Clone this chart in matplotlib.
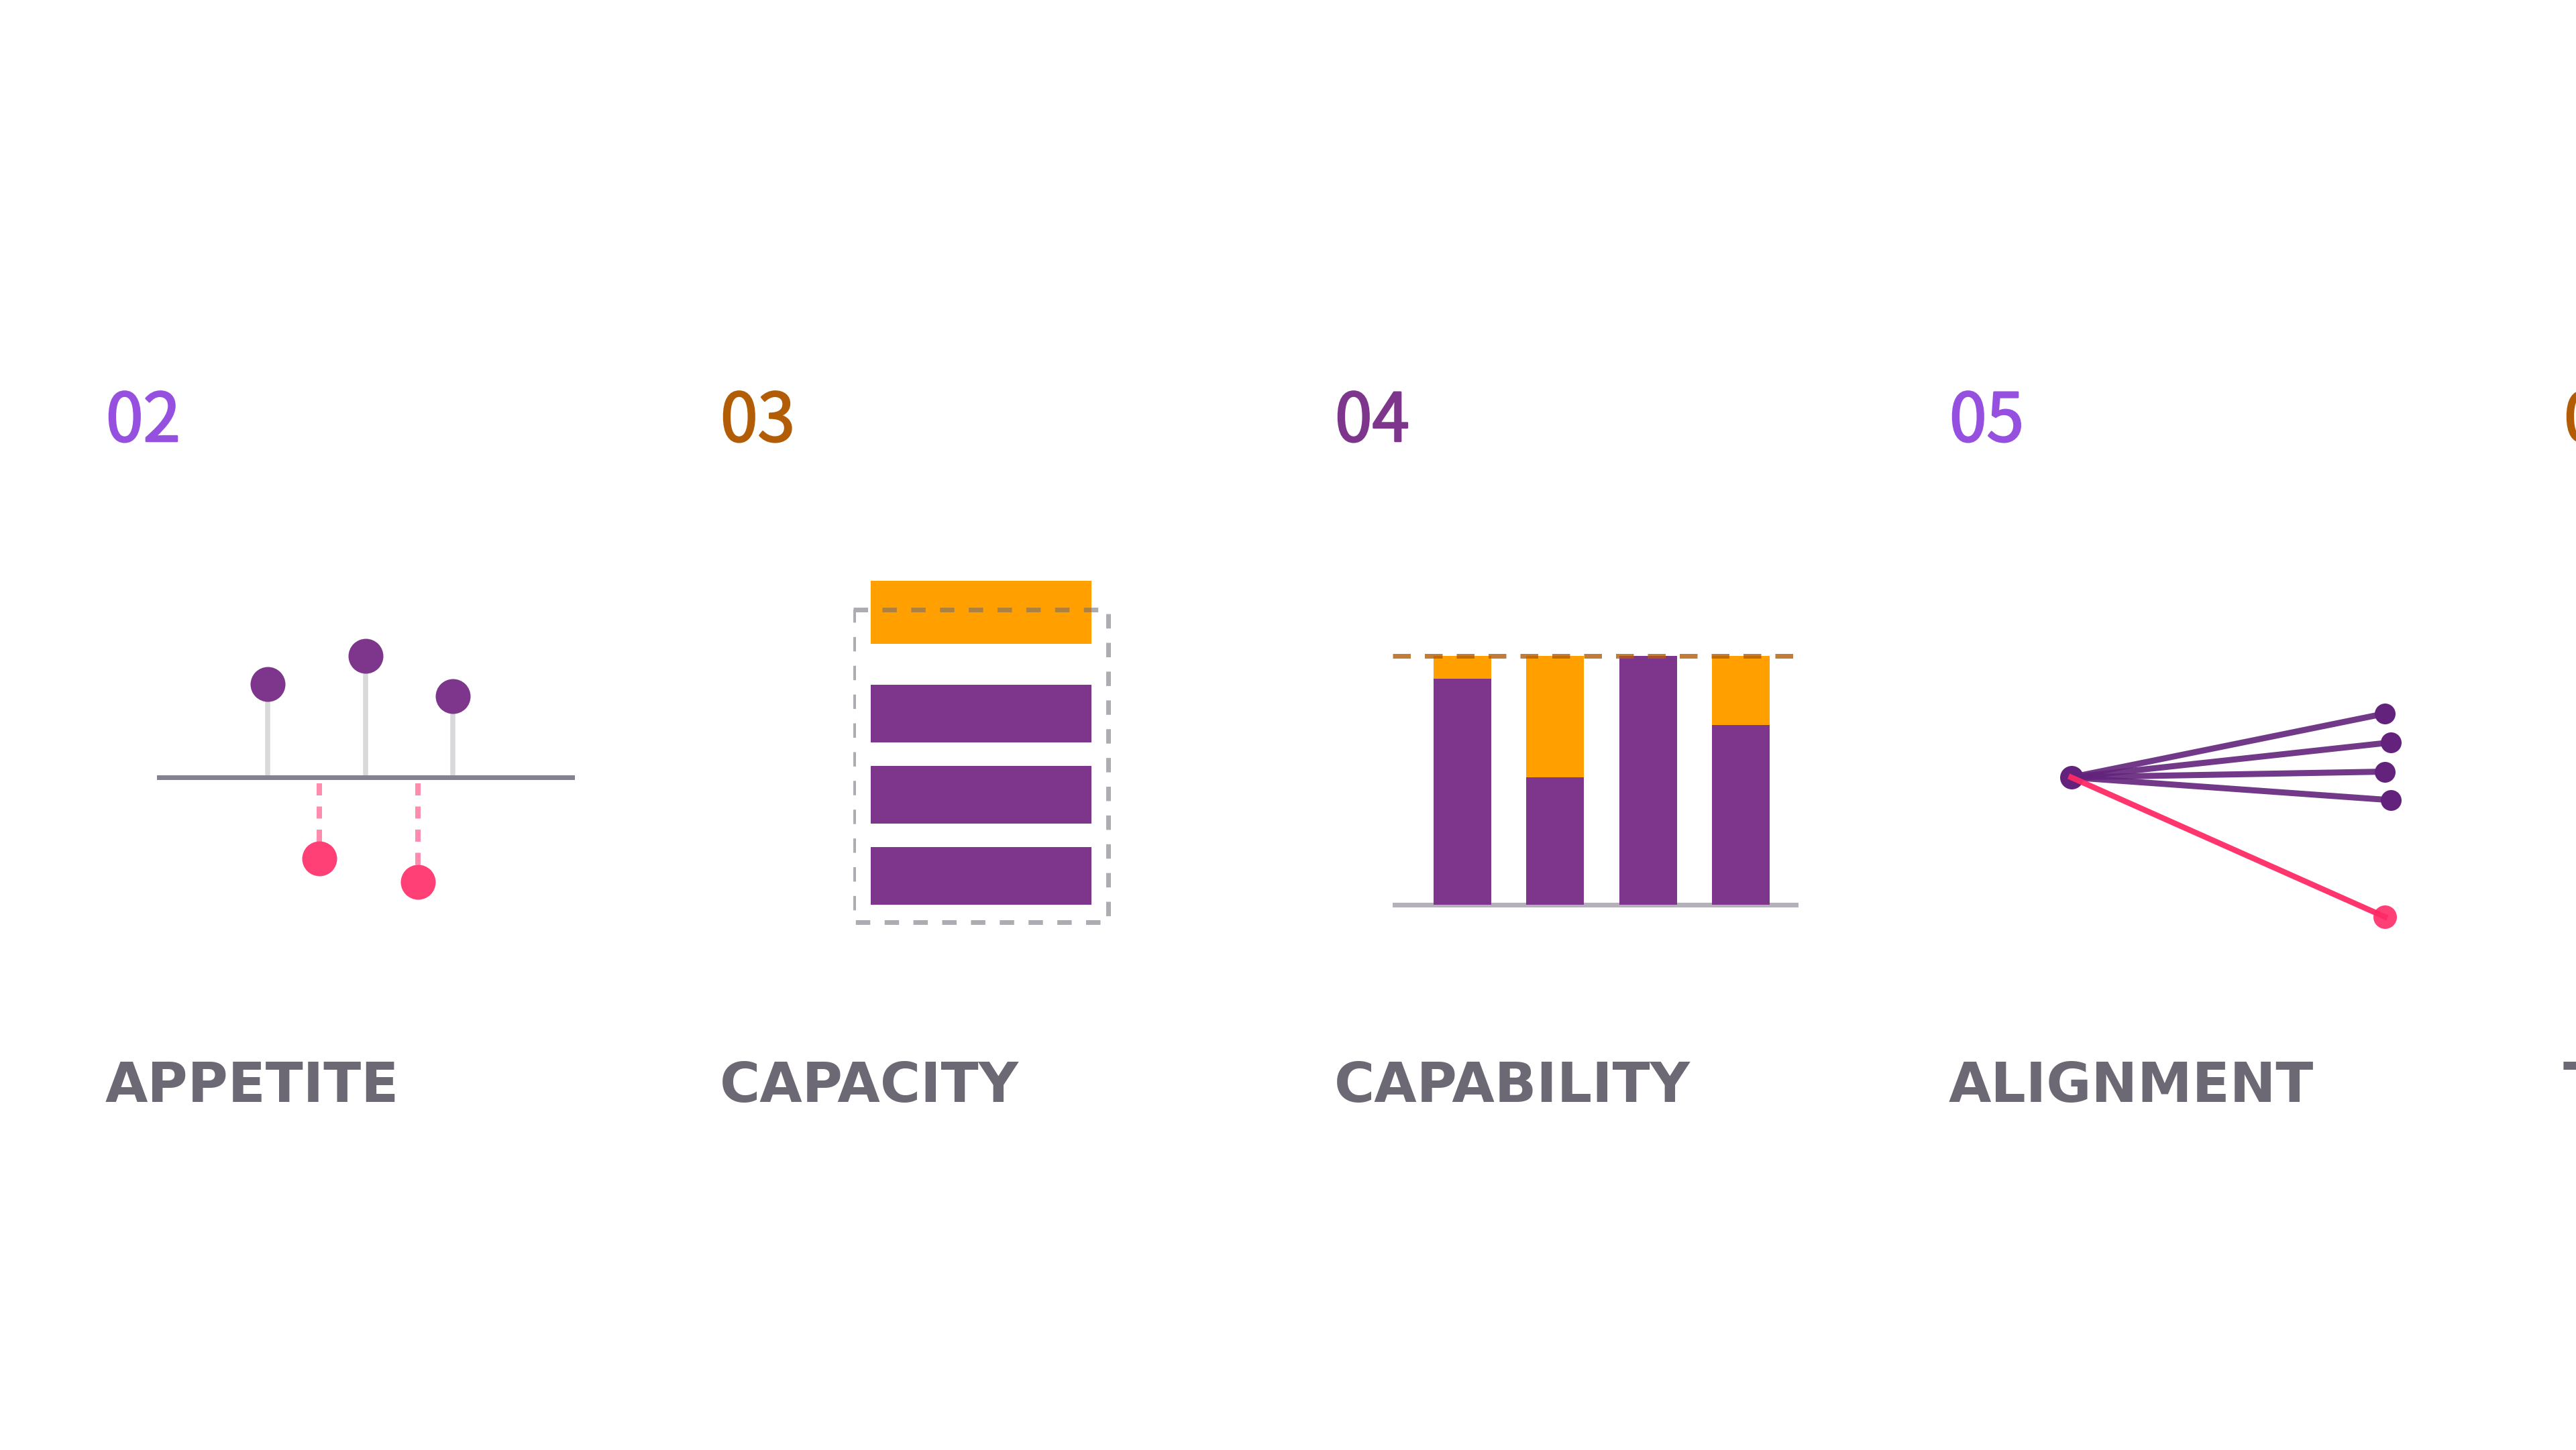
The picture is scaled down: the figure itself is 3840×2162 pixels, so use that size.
import matplotlib
matplotlib.use("Agg")
import matplotlib.pyplot as plt
import matplotlib.patheffects as pe

W = 3840
H = 2162
PX = 0.72  # one output pixel in points at dpi 100

plt.rcParams["lines.scale_dashes"] = False

PURPLE = "#7e368d"
DARK_PURPLE = "#63237c"
ORANGE = "#ffa000"
PINK = "#ff4077"
STEM = "#d9d9dc"
GREY = "#6c6974"
AXIS = "#84828c"
LIGHT = "#b4b1bb"
BROWN = "#b25c06"
VIOLET = "#9650e0"

numbers = ["02", "03", "04", "05", "06"]
number_colors = [VIOLET, BROWN, PURPLE, VIOLET, BROWN]
titles = ["APPETITE", "CAPACITY", "CAPABILITY", "ALIGNMENT", "T"]

# appetite
appetite_up_x = [164.5, 311, 441]
appetite_up_y = [139, 181.5, 121]
appetite_down_x = [242, 389]
appetite_down_y = [-121, -156]

# capacity
capacity_y = [436, 285, 164, 43]
capacity_height = [94, 86, 86, 86]
capacity_len = [329, 329, 329, 329]
capacity_colors = [ORANGE, PURPLE, PURPLE, PURPLE]
capacity_box_x = [0, 380.5, 380.5, 0, 0]
capacity_box_y = [440, 440, -26, -26, 440]

# capability
capability_x = [61, 199, 337.5, 476]
capability_have = [337, 190, 371.5, 268]
capability_need = [371.5, 371.5, 371.5, 371.5]

# alignment
align_end_x = [467.5, 476.5, 467.5, 476.5]
align_end_y = [95, 52, 8.5, -34]
align_off_x = 467.5
align_off_y = -208


def panel(x0, x1, y0, y_base, y1):
    ax = fig.add_axes([x0 / W, 1 - y1 / H, (x1 - x0) / W, (y1 - y0) / H])
    ax.set_xlim(0, x1 - x0)
    ax.set_ylim(y_base - y1, y_base - y0)
    ax.axis("off")
    return ax


fig = plt.figure(figsize=(W / 100, H / 100), dpi=100, facecolor="white")

for i in range(5):
    x = 160 + 916 * i
    fig.text((x - 2) / W, 1 - 658 / H, numbers[i], color=number_colors[i], fontsize=72,
             family=["Noto Sans CJK SC", "DejaVu Sans"], va="baseline",
             path_effects=[pe.withStroke(linewidth=2.5 * PX, foreground=number_colors[i])])
    fig.text((x - 3) / W, 1 - 1643 / H, titles[i], color=GREY, fontsize=59,
             family="DejaVu Sans", fontweight="bold", va="baseline")

# 02
ax = panel(234, 857, 900, 1159, 1400)
ax.vlines(appetite_up_x, 0, appetite_up_y, color=STEM, lw=7.5 * PX, zorder=1)
ax.vlines(appetite_down_x, -9, appetite_down_y, color=PINK, alpha=0.6, lw=8 * PX,
          linestyles=[(0, (18 * PX, 16.5 * PX))], zorder=1)
ax.axhline(0, color=AXIS, lw=7 * PX, zorder=2)
ax.scatter(appetite_up_x, appetite_up_y, s=(52 * PX) ** 2, color=PURPLE, lw=0, zorder=3)
ax.scatter(appetite_down_x, appetite_down_y, s=(52 * PX) ** 2, color=PINK, lw=0, zorder=3)

# 03
ax = panel(1272, 1660, 840, 1349, 1400)
ax.barh(capacity_y, capacity_len, height=capacity_height, left=26, color=capacity_colors, lw=0, zorder=1)
ax.plot(capacity_box_x, capacity_box_y, color=GREY, alpha=0.55, lw=7 * PX,
        ls=(0, (21.5 * PX, 21.4 * PX)), zorder=2, dash_joinstyle="miter")

# 04
ax = panel(2076, 2681, 950, 1349, 1400)
ax.axhline(0, color=LIGHT, lw=7 * PX, zorder=1)
ax.bar(capability_x, capability_have, width=86, align="edge", color=PURPLE, lw=0, zorder=2)
ax.bar(capability_x, [n - h for n, h in zip(capability_need, capability_have)], width=86,
       bottom=capability_have, align="edge", color=ORANGE, lw=0, zorder=2)
ax.plot([0, 597], [capability_need[0], capability_need[0]], color=BROWN, alpha=0.8, lw=7 * PX,
        ls=(0, (26.5 * PX, 21 * PX)), zorder=3)

# 05
ax = panel(3070, 3600, 1030, 1159, 1400)
ax.set_xlim(-17.5, 512.5)
for ex, ey in zip(align_end_x, align_end_y):
    ax.plot([0, ex], [0, ey], color=DARK_PURPLE, alpha=0.9, lw=9 * PX, zorder=3)
ax.plot([0, align_off_x], [0, align_off_y], color="#ff2a66", alpha=0.95, lw=8.5 * PX, zorder=3)
ax.scatter(align_end_x, align_end_y, s=(31 * PX) ** 2, color=DARK_PURPLE, lw=0, zorder=2)
ax.scatter([0], [0], s=(35 * PX) ** 2, color=DARK_PURPLE, lw=0, zorder=2)
ax.scatter([align_off_x], [align_off_y], s=(35 * PX) ** 2, color=PINK, lw=0, zorder=2)

fig.savefig("out.png", dpi=100, facecolor="white")
